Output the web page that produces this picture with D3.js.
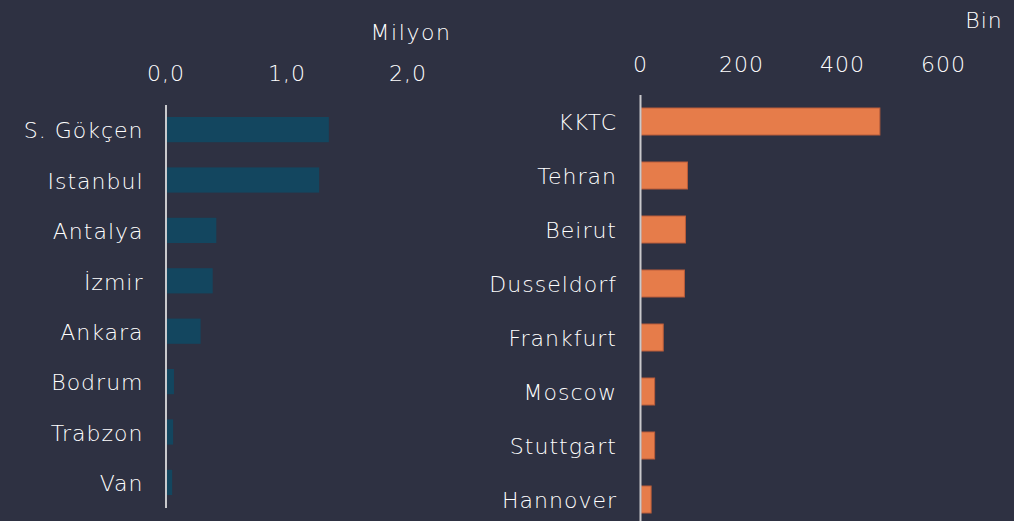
<!DOCTYPE html>
<html>
<head>
<meta charset="utf-8">
<script src="https://cdn.jsdelivr.net/npm/d3@7"></script>
<style>
  body { margin: 0; background: #2e3142; }
  svg text { font-family: "DejaVu Sans", sans-serif; font-weight: 200; letter-spacing: 1px; fill: #ffffff; }
</style>
</head>
<body>
<div id="chart-container"></div>
<script>
// data
const airports = ["S. Gökçen", "Istanbul", "Antalya", "İzmir", "Ankara", "Bodrum", "Trabzon", "Van"];
const airportValues = [1.35, 1.27, 0.42, 0.39, 0.29, 0.07, 0.063, 0.055]; // milyon
const leftTicks = [0, 1, 2];

const destinations = ["KKTC", "Tehran", "Beirut", "Dusseldorf", "Frankfurt", "Moscow", "Stuttgart", "Hannover"];
const destinationValues = [475, 94, 90, 88, 46, 29, 29, 22]; // bin
const rightTicks = [0, 200, 400, 600];

const width = 1014;
const height = 521;

const tr = d3.formatLocale({decimal: ",", thousands: ".", grouping: [3], currency: ["", "₺"]});
const fmt1 = tr.format(".1f");

const svg = d3.select("#chart-container")
    .append("svg")
        .attr("width", width)
        .attr("height", height)
        .style("display", "block");

svg.append("rect")
    .attr("width", width)
    .attr("height", height)
    .attr("fill", "#2e3142");

// ---- left chart
const xL = d3.scaleLinear().domain([0, 2]).range([165.5, 407.5]);
const yL = d3.scaleBand().domain(airports).range([104.4, 507.6]).paddingInner(0.5).paddingOuter(0.25);

svg.append("g")
    .selectAll("rect")
    .data(airports)
    .enter()
    .append("rect")
    .attr("x", xL(0) + 1)
    .attr("y", d => yL(d))
    .attr("width", (d, i) => xL(airportValues[i]) - xL(0) - 1)
    .attr("height", yL.bandwidth())
    .attr("fill", "#13465f");

svg.append("g")
    .attr("transform", "translate(0,81)")
    .call(d3.axisTop(xL).tickValues(leftTicks).tickSize(0).tickPadding(0).tickFormat(fmt1))
    .call(g => g.select(".domain").remove())
    .selectAll("text")
    .style("font-size", "22px")
    .attr("fill", "#ffffff");

svg.append("g")
    .attr("transform", `translate(${xL(0)},0)`)
    .call(d3.axisLeft(yL).tickSize(0).tickPadding(22))
    .call(g => g.select(".domain").attr("stroke", "#c9c9cc").attr("stroke-width", 2))
    .selectAll("text")
    .style("font-size", "22px")
    .attr("dy", "0.4em")
    .attr("fill", "#ffffff");

svg.append("text")
    .attr("x", 411)
    .attr("y", 40)
    .style("text-anchor", "middle")
    .style("font-size", "22px")
    .style("letter-spacing", "1.6px")
    .text("Milyon");

// ---- right chart
const xR = d3.scaleLinear().domain([0, 600]).range([640, 943]);
const yR = d3.scaleBand().domain(destinations).range([94.5, 526.5]).paddingInner(0.5).paddingOuter(0.25);

svg.append("g")
    .selectAll("rect")
    .data(destinations)
    .enter()
    .append("rect")
    .attr("x", xR(0) + 1)
    .attr("y", d => yR(d))
    .attr("width", (d, i) => xR(destinationValues[i]) - xR(0) - 1)
    .attr("height", yR.bandwidth())
    .attr("fill", "#e67c4a")
    .attr("stroke", "#b95c3a")
    .attr("stroke-width", 1);

svg.append("g")
    .attr("transform", "translate(0,72)")
    .call(d3.axisTop(xR).tickValues(rightTicks).tickSize(0).tickPadding(0))
    .call(g => g.select(".domain").remove())
    .selectAll("text")
    .style("font-size", "22px")
    .attr("fill", "#ffffff");

svg.append("g")
    .attr("transform", `translate(${xR(0)},0)`)
    .call(d3.axisLeft(yR).tickSize(0).tickPadding(23))
    .call(g => g.select(".domain").attr("stroke", "#c9c9cc").attr("stroke-width", 2))
    .selectAll("text")
    .style("font-size", "22px")
    .attr("dy", "0.4em")
    .attr("fill", "#ffffff");

svg.append("text")
    .attr("x", 984)
    .attr("y", 28)
    .style("text-anchor", "middle")
    .style("font-size", "22px")
    .text("Bin");
</script>
</body>
</html>
